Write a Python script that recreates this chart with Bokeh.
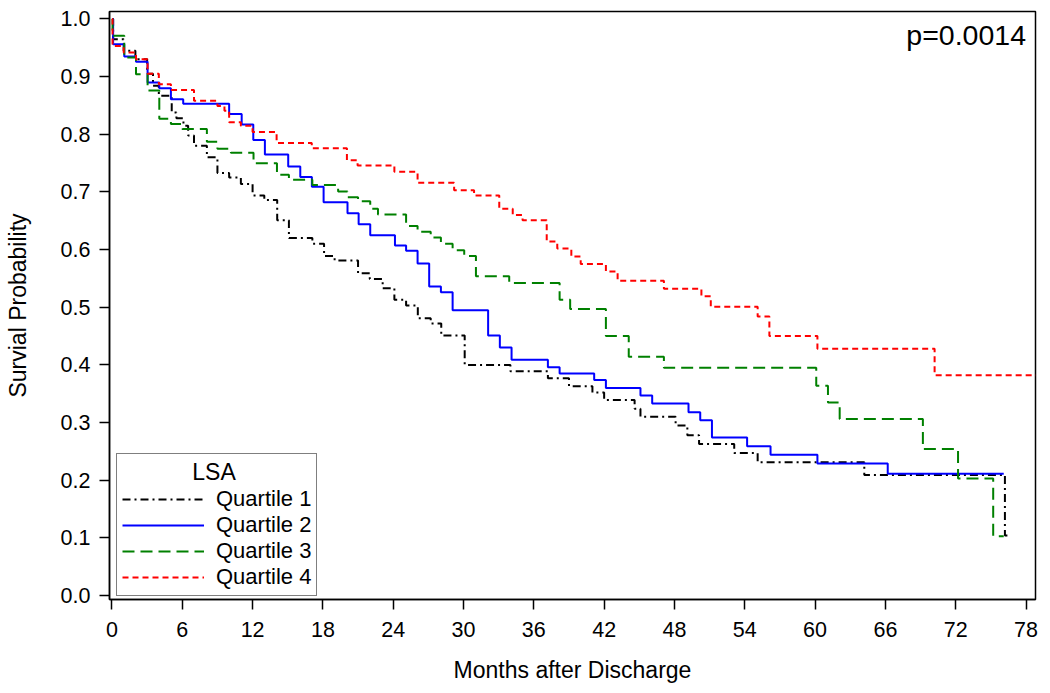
from bokeh.plotting import figure
from bokeh.models import Range1d, FixedTicker, NumeralTickFormatter, Legend, LegendItem, Label
from bokeh.embed import file_html
from bokeh.resources import INLINE

# ---- data (months after discharge, survival probability after each step) ----
months_q1 = [0, 0.1, 1.0, 2.0, 3.0, 3.5, 4.0, 5.1, 5.5, 6.1, 6.5, 7.0, 8.1, 9.0, 10.0, 11.0, 12.0, 13.0,
             14.1, 15.1, 17.1, 18.1, 19.0, 21.0, 22.0, 23.1, 24.1, 25.1, 26.1, 27.2, 28.1, 30.1, 34.0,
             37.2, 39.0, 41.0, 42.0, 44.6, 45.1, 48.1, 49.1, 50.1, 53.1, 55.1, 64.2, 76.2, 76.5]
surv_q1 = [1.0, 0.965, 0.945, 0.930, 0.905, 0.884, 0.867, 0.838, 0.828, 0.815, 0.798, 0.780, 0.760, 0.733,
           0.725, 0.714, 0.694, 0.686, 0.651, 0.620, 0.610, 0.589, 0.581, 0.559, 0.549, 0.533, 0.513, 0.503,
           0.481, 0.472, 0.451, 0.400, 0.389, 0.377, 0.363, 0.352, 0.339, 0.324, 0.310, 0.295, 0.278, 0.263,
           0.247, 0.231, 0.209, 0.104, 0.104]

months_q2 = [0, 0.1, 1.05, 2.05, 3.04, 4.04, 5.03, 6.08, 10.0, 11.07, 12.06, 13.05, 15.04, 16.07, 17.06,
             18.06, 20.1, 21.05, 22.04, 24.15, 25.1, 26.08, 27.07, 28.07, 29.07, 32.1, 33.1, 34.1, 37.2, 38.2,
             41.15, 42.15, 45.1, 46.1, 49.2, 50.2, 51.2, 54.2, 56.2, 60.2, 66.2, 76.1]
surv_q2 = [1.0, 0.956, 0.935, 0.926, 0.890, 0.880, 0.861, 0.853, 0.835, 0.817, 0.790, 0.765, 0.744, 0.726,
           0.709, 0.682, 0.663, 0.644, 0.625, 0.607, 0.598, 0.576, 0.536, 0.526, 0.495, 0.451, 0.430, 0.409,
           0.396, 0.385, 0.374, 0.360, 0.347, 0.333, 0.318, 0.304, 0.274, 0.259, 0.244, 0.229, 0.211, 0.211]

months_q3 = [0, 0.05, 1.05, 2.05, 3.04, 4.04, 5.03, 6.0, 8.1, 9.0, 10.15, 12.08, 14.08, 15.1, 17.1, 19.3,
             20.1, 21.0, 22.04, 22.7, 25.1, 26.08, 27.2, 28.07, 29.07, 30.06, 31.06, 33.9, 38.2, 39.1, 42.15,
             44.1, 47.1, 60.1, 61.1, 62.1, 69.2, 72.2, 75.2, 76.1]
surv_q3 = [1.0, 0.971, 0.933, 0.904, 0.876, 0.827, 0.818, 0.809, 0.787, 0.775, 0.768, 0.750, 0.730, 0.721,
           0.712, 0.701, 0.691, 0.684, 0.671, 0.661, 0.641, 0.631, 0.621, 0.610, 0.599, 0.589, 0.554, 0.542,
           0.513, 0.497, 0.450, 0.414, 0.395, 0.364, 0.335, 0.306, 0.254, 0.203, 0.103, 0.103]

months_q4 = [0, 0.05, 1.0, 2.05, 3.04, 4.0, 5.03, 7.0, 9.0, 9.6, 10.0, 11.0, 12.0, 14.05, 17.05, 20.05,
             20.96, 24.1, 26.08, 29.2, 30.9, 33.05, 34.2, 35.04, 37.1, 38.0, 39.2, 40.0, 42.15, 43.15, 47.1,
             50.3, 51.1, 55.1, 56.1, 60.2, 70.2, 78.9]
surv_q4 = [1.0, 0.953, 0.942, 0.930, 0.905, 0.887, 0.877, 0.858, 0.849, 0.841, 0.821, 0.815, 0.804, 0.785,
           0.776, 0.755, 0.746, 0.735, 0.716, 0.703, 0.694, 0.671, 0.660, 0.651, 0.614, 0.602, 0.588, 0.575,
           0.562, 0.546, 0.532, 0.519, 0.501, 0.484, 0.450, 0.428, 0.382, 0.382]

series_labels = ["Quartile 1", "Quartile 2", "Quartile 3", "Quartile 4"]
legend_title = "LSA"
x_ticks = list(range(0, 79, 6))
y_ticks = [i / 10 for i in range(11)]
p_value_text = "p=0.0014"

FONT = "Liberation Sans"

p = figure(width=1042, height=685, output_backend="svg", toolbar_location=None,
           x_range=Range1d(-0.21, 78.81), y_range=Range1d(-0.0069, 1.013),
           min_border_left=109, min_border_right=7, min_border_top=11, min_border_bottom=86)

p.xgrid.visible = False
p.ygrid.visible = False
p.outline_line_color = "black"
p.outline_line_width = 1.5

styles = [
    dict(line_color="#000000", line_dash="8 4 2 4"),
    dict(line_color="#0000ff", line_dash="solid"),
    dict(line_color="#008000", line_dash="12 6"),
    dict(line_color="#ff0000", line_dash="6 4"),
]
data = [(months_q1, surv_q1), (months_q2, surv_q2), (months_q3, surv_q3), (months_q4, surv_q4)]
renderers = []
for (mx, sy), st in zip(data, styles):
    r = p.step(mx, sy, mode="after", line_width=2, **st)
    renderers.append(r)

for ax in (p.xaxis[0], p.yaxis[0]):
    ax.axis_line_color = "black"
    ax.axis_line_width = 1.5
    ax.major_tick_line_color = "black"
    ax.major_tick_line_width = 1.5
    ax.major_tick_out = 10
    ax.major_tick_in = 0
    ax.minor_tick_line_color = None
    ax.major_label_text_font = FONT
    ax.major_label_text_font_size = "21.5px"
    ax.major_label_text_color = "black"
    ax.axis_label_text_font = FONT
    ax.axis_label_text_font_size = "23px"
    ax.axis_label_text_font_style = "normal"
    ax.axis_label_text_color = "black"

p.xaxis.ticker = FixedTicker(ticks=x_ticks)
p.yaxis.ticker = FixedTicker(ticks=y_ticks)
p.yaxis.formatter = NumeralTickFormatter(format="0.0")
p.xaxis.axis_label = "Months after Discharge"
p.yaxis.axis_label = "Survial Probability"
p.xaxis.major_label_standoff = 12
p.yaxis.major_label_standoff = 9
p.xaxis.axis_label_standoff = 17
p.yaxis.axis_label_standoff = 27

legend = Legend(
    items=[LegendItem(label=lab, renderers=[r]) for lab, r in zip(series_labels, renderers)],
    location=(7, 3), title="\u00a0" * 11 + legend_title,
    title_text_font=FONT, title_text_font_size="23px", title_text_font_style="normal",
    title_text_color="black",
    label_text_font=FONT, label_text_font_size="22px", label_text_color="black",
    border_line_color="black", border_line_width=1.5, background_fill_alpha=1.0,
    glyph_width=82, glyph_height=20, label_height=20, spacing=0, padding=5, margin=0,
    label_standoff=12, title_standoff=0,
)
p.add_layout(legend)

p.add_layout(Label(x=78.0, y=0.9714, text=p_value_text, text_align="right", text_baseline="alphabetic",
                   text_font=FONT, text_font_size="28.5px", text_color="black"))

open("out.html", "w").write(file_html(p, INLINE))
